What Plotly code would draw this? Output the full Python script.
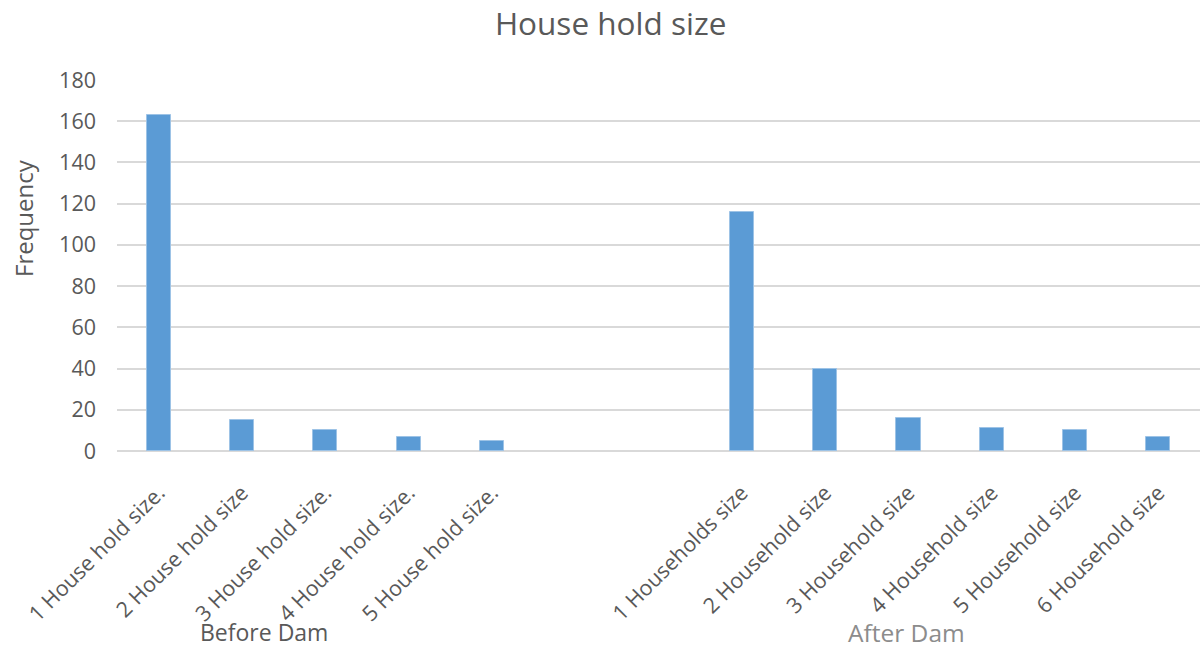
import plotly.graph_objects as go

before_labels = ["1 House hold size.", "2 House hold size", "3 House hold size.",
                 "4 House hold size.", "5 House hold size."]
before_values = [163, 15, 10, 7, 5]
after_labels = ["1 Households size", "2 Household size", "3 Household size",
                "4 Household size", "5 Household size", "6 Household size"]
after_values = [116, 40, 16, 11, 10, 7]
group_names = ["Before Dam", "After Dam"]
y_ticks = [0, 20, 40, 60, 80, 100, 120, 140, 160, 180]

gap = 2
before_x = list(range(len(before_labels)))
after_x = [len(before_labels) + gap + i for i in range(len(after_labels))]
n_slots = len(before_labels) + gap + len(after_labels)

FONT = "'Open Sans', sans-serif"
GREY = "#595959"

fig = go.Figure()
fig.add_trace(go.Bar(
    x=before_x + after_x,
    y=before_values + after_values,
    width=0.29,
    marker=dict(color="#5B9BD5", line=dict(color="#9DC3E6", width=1)),
    showlegend=False,
))

fig.update_layout(
    width=1202, height=650,
    paper_bgcolor="white", plot_bgcolor="white",
    margin=dict(l=117, r=2, t=80, b=199, autoexpand=False),
    font=dict(family=FONT, color=GREY, size=16),
    title=dict(text="House hold size", x=0.508, xanchor="center", y=0.963, yanchor="middle",
               font=dict(size=31.5, color=GREY, family=FONT)),
    bargap=0,
)
fig.update_xaxes(
    range=[-0.5, n_slots - 0.5],
    tickmode="array",
    tickvals=before_x + after_x,
    ticktext=before_labels + after_labels,
    tickangle=-45,
    tickfont=dict(size=21.5, color=GREY),
    showgrid=False, zeroline=False, showline=False, ticks="",
    ticklabelstandoff=24,
)
fig.update_yaxes(
    range=[0, 180],
    tickmode="array",
    tickvals=y_ticks,
    tickfont=dict(size=21.5, color=GREY),
    showgrid=True, gridcolor="#D9D9D9", gridwidth=1.5,
    zeroline=True, zerolinecolor="#D9D9D9", zerolinewidth=1.5,
    showline=False, ticks="", ticklabelstandoff=20,
)
fig.add_annotation(text="Frequency", textangle=-90, xref="paper", yref="paper",
                   x=(23 - 117) / (1202 - 117 - 2), y=(451 - 218) / 371,
                   xanchor="center", yanchor="middle", showarrow=False,
                   font=dict(size=24, color=GREY))
fig.add_annotation(text=group_names[0], xref="x", yref="paper",
                   x=(before_x[0] + before_x[-1]) / 2 - 0.73, y=(451 - 632) / 371,
                   xanchor="center", yanchor="middle", showarrow=False,
                   font=dict(size=23, color=GREY))
fig.add_annotation(text=group_names[1], xref="x", yref="paper",
                   x=(after_x[0] + after_x[-1]) / 2 - 0.52, y=(451 - 632) / 371,
                   xanchor="center", yanchor="middle", showarrow=False,
                   font=dict(size=24.5, color="#8C8C8C"))

fig.write_html("out.html")
